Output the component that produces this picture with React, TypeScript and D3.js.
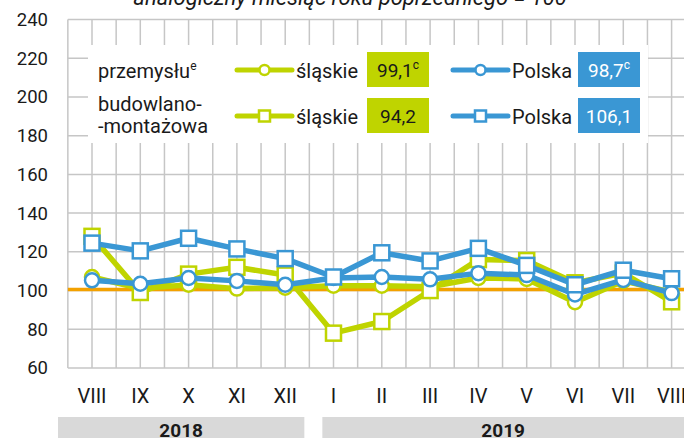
import React, { useEffect, useRef } from 'react';
import * as d3 from 'd3';

const months = ['VIII', 'IX', 'X', 'XI', 'XII', 'I', 'II', 'III', 'IV', 'V', 'VI', 'VII', 'VIII'];
const years = ['2018', '2019'];
const yTicks = [60, 80, 100, 120, 140, 160, 180, 200, 220, 240];

// śląskie / Polska, przemysł i budowlano-montażowa
const slaskiePrzemysl = [107, 101, 103, 101, 101.5, 102.5, 102.5, 102, 106.5, 106, 94, 105, 99.1];
const slaskieBudowlano = [128, 99, 108.5, 112, 108, 78, 84, 100, 116, 115.5, 104, 109, 94.2];
const polskaPrzemysl = [105.3, 103.5, 106.5, 105, 103, 106.5, 107, 105.8, 109, 108, 98, 105.5, 98.7];
const polskaBudowlano = [124.5, 120.5, 127, 121.5, 116.5, 107, 119.5, 115.3, 121.8, 113, 103, 110.5, 106.1];

const legendValues = ['99,1', '98,7', '94,2', '106,1'];
const legendSup = ['c', 'c', '', ''];

const GREEN = '#bfd400';
const BLUE = '#3a97d4';
const ORANGE = '#f3a100';
const GRID = '#c6c6c6';
const INK = '#1a1a1a';
const FONT = 'Roboto, "Noto Sans", sans-serif';

const App: React.FC = () => {
	const svgRef = useRef<SVGSVGElement | null>(null);

	useEffect(() => {
		if (!svgRef.current) return;
		const width = 684;
		const height = 438;

		const svg = d3.select(svgRef.current);
		svg.selectAll('*').remove();
		svg.attr('width', width).attr('height', height).style('font-family', FONT);

		const x = d3
			.scalePoint<number>()
			.domain(months.map((_, i) => i))
			.range([92, 671.6]);
		const step = x.step();
		const y = d3.scaleLinear().domain([60, 240]).range([368, 19.5]);
		const left = x(0)! - step / 2;

		// siatka
		const grid = svg.append('g').attr('stroke', GRID).attr('stroke-width', 1.5);
		const vLines: number[] = [];
		for (let i = 0; i <= months.length * 2; i++) vLines.push(left + (i * step) / 2);
		grid
			.selectAll('line.v')
			.data(vLines)
			.join('line')
			.attr('x1', (d) => d)
			.attr('x2', (d) => d)
			.attr('y1', y(240))
			.attr('y2', y(60));
		grid
			.selectAll('line.h')
			.data(yTicks)
			.join('line')
			.attr('x1', left)
			.attr('x2', width)
			.attr('y1', (d) => y(d))
			.attr('y2', (d) => y(d));

		// tytuł (ucięty u góry)
		svg
			.append('text')
			.attr('x', 350)
			.attr('y', 5)
			.attr('text-anchor', 'middle')
			.attr('font-style', 'italic')
			.attr('font-size', 22)
			.attr('fill', INK)
			.text('analogiczny miesiąc roku poprzedniego = 100');

		// oś Y
		svg
			.append('g')
			.selectAll('text')
			.data(yTicks)
			.join('text')
			.attr('x', 48)
			.attr('y', (d) => y(d))
			.attr('dy', '0.35em')
			.attr('text-anchor', 'end')
			.attr('font-size', 18.5)
			.attr('fill', INK)
			.text((d) => d);

		// oś X
		svg
			.append('g')
			.selectAll('text')
			.data(months)
			.join('text')
			.attr('x', (_, i) => x(i)!)
			.attr('y', 403)
			.attr('text-anchor', 'middle')
			.attr('font-size', 20)
			.attr('fill', INK)
			.text((d) => d);

		// lata
		const mid = (x(4)! + x(5)!) / 2;
		const bands = [
			[x(0)! - 34, mid - 5],
			[mid + 13, width + 10],
		];
		const yearG = svg.append('g');
		years.forEach((yr, i) => {
			const [b0, b1] = bands[i];
			yearG.append('rect').attr('x', b0).attr('y', 417).attr('width', b1 - b0).attr('height', 30).attr('fill', '#d9d9d9');
			const tx = i === 1 ? (b0 + width) / 2 : (b0 + b1) / 2;
			yearG
				.append('text')
				.attr('x', tx)
				.attr('y', 437)
				.attr('text-anchor', 'middle')
				.attr('font-size', 19)
				.attr('font-weight', 'bold')
				.attr('fill', INK)
				.text(yr);
		});

		// linia 100
		svg
			.append('line')
			.attr('x1', left)
			.attr('x2', width)
			.attr('y1', y(100) - 1)
			.attr('y2', y(100) - 1)
			.attr('stroke', ORANGE)
			.attr('stroke-width', 3.5);

		// legenda
		const lg = svg.append('g');
		lg.append('rect').attr('x', 88).attr('y', 45).attr('width', 560).attr('height', 98).attr('fill', '#fff');
		const txt = (tx: number, ty: number, s: string, fill = INK) =>
			lg.append('text').attr('x', tx).attr('y', ty).attr('font-size', 20).attr('fill', fill).text(s);
		const pz = txt(98, 78, 'przemysłu');
		pz.append('tspan').attr('font-size', 12).attr('dy', -8).text('e');
		txt(98, 111, 'budowlano-');
		txt(98, 133, '-montażowa');

		const legendRows = [
			{ yy: 70, shape: 'circle' },
			{ yy: 116, shape: 'square' },
		];
		legendRows.forEach((row, r) => {
			[
				{ x0: 237, color: GREEN, label: 'śląskie', bx: 367 },
				{ x0: 453, color: BLUE, label: 'Polska', bx: 578 },
			].forEach((s, c) => {
				lg.append('line')
					.attr('x1', s.x0)
					.attr('x2', s.x0 + 55)
					.attr('y1', row.yy)
					.attr('y2', row.yy)
					.attr('stroke', s.color)
					.attr('stroke-width', 5)
					.attr('stroke-linecap', 'round');
				if (row.shape === 'circle') {
					lg.append('circle').attr('cx', s.x0 + 27.5).attr('cy', row.yy).attr('r', 5).attr('fill', '#fff').attr('stroke', s.color).attr('stroke-width', 2.5);
				} else {
					lg.append('rect').attr('x', s.x0 + 22).attr('y', row.yy - 5.5).attr('width', 11).attr('height', 11).attr('fill', '#fff').attr('stroke', s.color).attr('stroke-width', 2.5);
				}
				txt(s.x0 + 59, row.yy + 8, s.label);
				lg.append('rect').attr('x', s.bx).attr('y', row.yy - 18).attr('width', 62).attr('height', 35).attr('fill', s.color);
				const idx = r * 2 + c;
				const vt = lg
					.append('text')
					.attr('x', s.bx + 31)
					.attr('y', row.yy + 7)
					.attr('text-anchor', 'middle')
					.attr('font-size', 19)
					.attr('fill', c === 1 ? '#fff' : INK)
					.text(legendValues[idx]);
				if (legendSup[idx]) vt.append('tspan').attr('font-size', 12).attr('dy', -8).text(legendSup[idx]);
			});
		});

		// serie
		const series = [
			{ data: slaskiePrzemysl, color: GREEN, shape: 'circle' },
			{ data: slaskieBudowlano, color: GREEN, shape: 'square' },
			{ data: polskaPrzemysl, color: BLUE, shape: 'circle' },
			{ data: polskaBudowlano, color: BLUE, shape: 'square' },
		];
		const line = d3
			.line<number>()
			.x((_, i) => x(i)!)
			.y((d) => y(d));

		series.forEach((s) => {
			const g = svg.append('g');
			g.append('path').attr('d', line(s.data)).attr('fill', 'none').attr('stroke', s.color).attr('stroke-width', 5.5).attr('stroke-linejoin', 'round');
			if (s.shape === 'circle') {
				g.selectAll('circle')
					.data(s.data)
					.join('circle')
					.attr('cx', (_, i) => x(i)!)
					.attr('cy', (d) => y(d))
					.attr('r', 7)
					.attr('fill', '#fff')
					.attr('stroke', s.color)
					.attr('stroke-width', 2.5);
			} else {
				g.selectAll('rect')
					.data(s.data)
					.join('rect')
					.attr('x', (_, i) => x(i)! - 7.5)
					.attr('y', (d) => y(d) - 7.5)
					.attr('width', 15)
					.attr('height', 15)
					.attr('fill', '#fff')
					.attr('stroke', s.color)
					.attr('stroke-width', 2.5);
			}
		});
	}, []);

	return (
		<>
			<style>{'body{margin:0}'}</style>
			<svg ref={svgRef} style={{ display: 'block' }}></svg>
		</>
	);
};

export default App;
